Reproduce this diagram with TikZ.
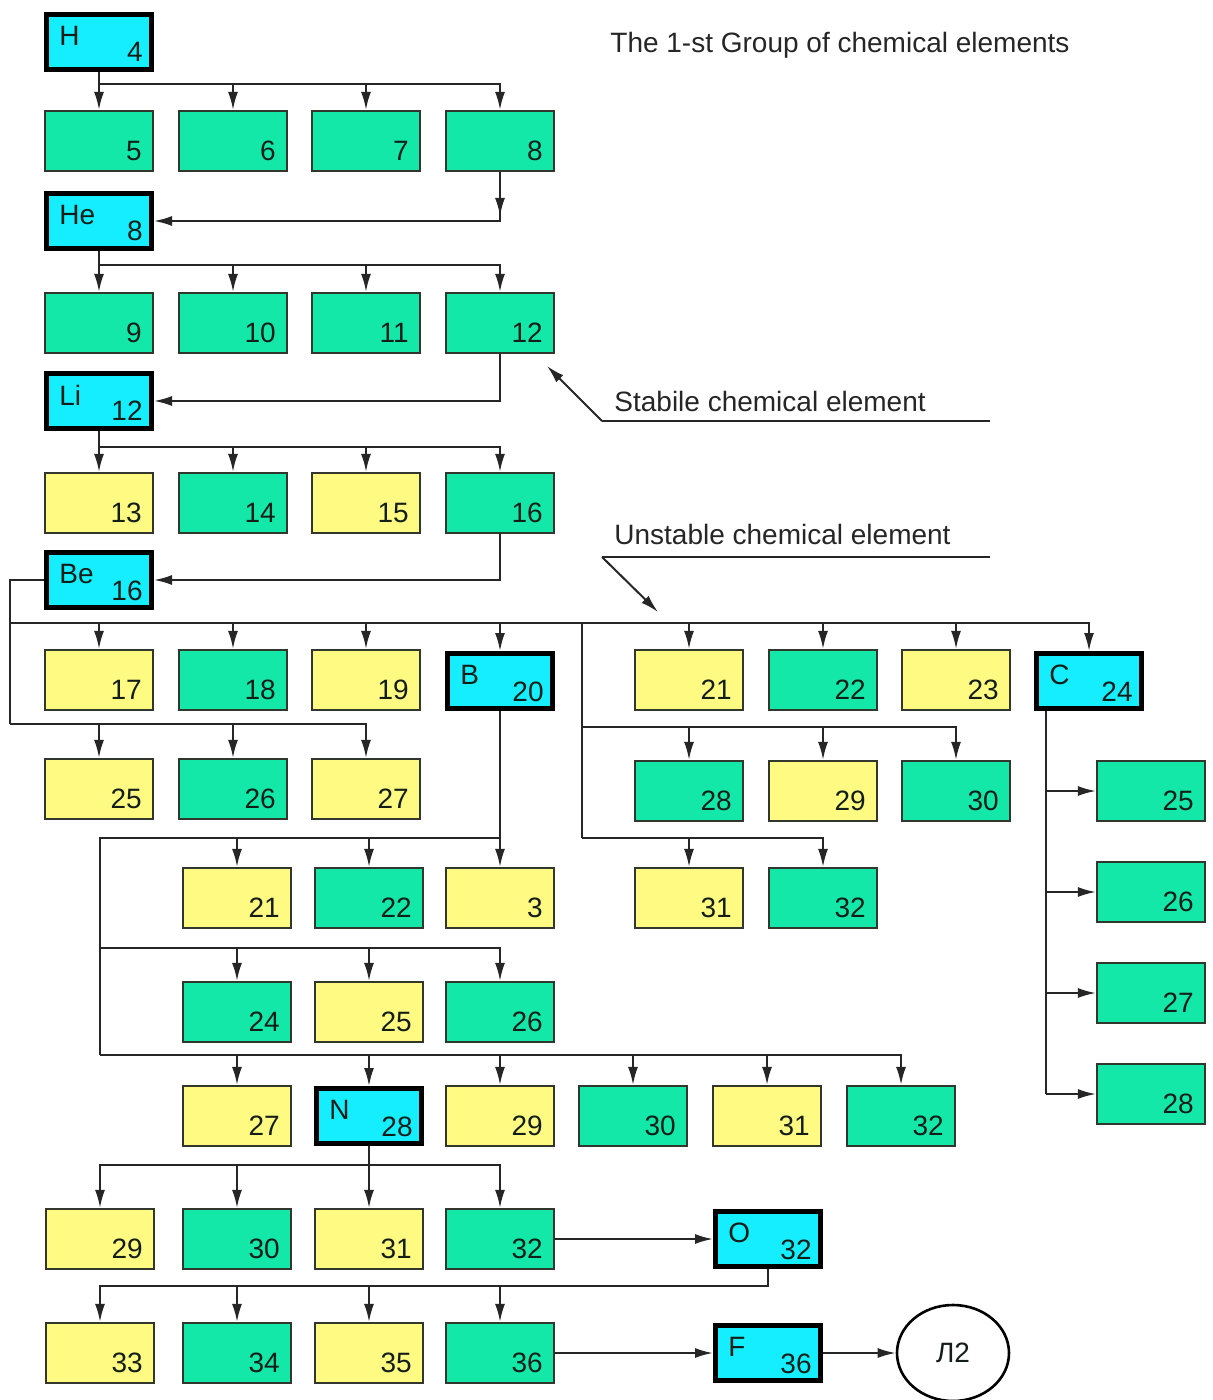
\documentclass[tikz,border=0pt]{standalone}
\usepackage{fontspec}
\setmainfont{Liberation Sans}
\usetikzlibrary{arrows.meta,shapes.geometric}
\definecolor{grn}{RGB}{20,232,168}
\definecolor{ylw}{RGB}{255,250,130}
\definecolor{cyn}{RGB}{20,238,255}
\definecolor{edgec}{RGB}{50,55,45}
\definecolor{ink}{RGB}{20,30,25}
\newcommand\elfont{\fontsize{14}{17}\selectfont}
\tikzset{
  elem/.style={rectangle, inner sep=0pt, minimum width=54pt, minimum height=30pt, draw=edgec, line width=1.1pt},
  gbox/.style={elem, fill=grn},
  ybox/.style={elem, fill=ylw},
  cbox/.style={rectangle, inner sep=0pt, minimum width=52.5pt, minimum height=27.5pt, draw=black, line width=2.5pt, fill=cyn},
  num/.style={label={[anchor=base east, inner sep=0pt, xshift=-6pt, yshift=6pt, text=ink, font=\elfont]south east:#1}},
  cnum/.style={label={[anchor=base east, inner sep=0pt, xshift=-5.5pt, yshift=5pt, text=ink, font=\elfont]south east:#1}},
  sym/.style={label={[anchor=north west, inner sep=0pt, xshift=7.5pt, yshift=-7pt, text=ink, font=\elfont]north west:#1}},
  conn/.style={draw=black!85, line width=1pt},
  arr/.style={conn, -{Latex[length=9pt,width=5pt]}},
  note/.style={anchor=base west, inner sep=0pt, font=\elfont, text=black!85},
}
\newcommand\elG[4]{\node[gbox,num={#4}] (#1) at (#2,#3) {};}
\newcommand\elY[4]{\node[ybox,num={#4}] (#1) at (#2,#3) {};}
\newcommand\elC[5]{\node[cbox,cnum={#5},sym={#4}] (#1) at (#2,#3) {};}
\begin{document}
\begin{tikzpicture}[x=0.5pt,y=-0.5pt]
\useasboundingbox (0,0) rectangle (1212,1400);
\fill[white] (0,0) rectangle (1212,1400);

% ---------- nodes ----------
\elC{H}{99}{42}{H}{4}
\elG{a5}{99}{141}{5}\elG{a6}{233}{141}{6}\elG{a7}{366}{141}{7}\elG{a8}{500}{141}{8}
\elC{He}{99}{221}{He}{8}
\elG{b9}{99}{323}{9}\elG{b10}{233}{323}{10}\elG{b11}{366}{323}{11}\elG{b12}{500}{323}{12}
\elC{Li}{99}{401}{Li}{12}
\elY{c13}{99}{503}{13}\elG{c14}{233}{503}{14}\elY{c15}{366}{503}{15}\elG{c16}{500}{503}{16}
\elC{Be}{99}{580}{Be}{16}
\elY{d17}{99}{680}{17}\elG{d18}{233}{680}{18}\elY{d19}{366}{680}{19}
\elC{B}{500}{681}{B}{20}
\elY{d21}{689}{680}{21}\elG{d22}{823}{680}{22}\elY{d23}{956}{680}{23}
\elC{C}{1089}{681}{C}{24}
\elY{e25}{99}{789}{25}\elG{e26}{233}{789}{26}\elY{e27}{366}{789}{27}
\elG{e28}{689}{791}{28}\elY{e29}{823}{791}{29}\elG{e30}{956}{791}{30}
\elY{f21}{237}{898}{21}\elG{f22}{369}{898}{22}\elY{f3}{500}{898}{3}
\elY{f31}{689}{898}{31}\elG{f32}{823}{898}{32}
\elG{s25}{1151}{791}{25}\elG{s26}{1151}{892}{26}\elG{s27}{1151}{993}{27}\elG{s28}{1151}{1094}{28}
\elG{g24}{237}{1012}{24}\elY{g25}{369}{1012}{25}\elG{g26}{500}{1012}{26}
\elY{h27}{237}{1116}{27}
\elC{N}{369}{1116}{N}{28}
\elY{h29}{500}{1116}{29}\elG{h30}{633}{1116}{30}\elY{h31}{767}{1116}{31}\elG{h32}{901}{1116}{32}
\elY{i29}{100}{1239}{29}\elG{i30}{237}{1239}{30}\elY{i31}{369}{1239}{31}\elG{i32}{500}{1239}{32}
\elC{O}{768}{1239}{O}{32}
\elY{j33}{100}{1353}{33}\elG{j34}{237}{1353}{34}\elY{j35}{369}{1353}{35}\elG{j36}{500}{1353}{36}
\elC{Fb}{768}{1353}{F}{36}
\node[ellipse, draw=black, line width=1.3pt, minimum width=56pt, minimum height=48pt, inner sep=0pt, font=\elfont, text=ink] (L2) at (953,1353) {Л2};

% ---------- bus coordinates ----------
\coordinate (bL1) at (10,623);
\coordinate (bL2) at (10,724);
\coordinate (bR) at (582,623);
\coordinate (bR1) at (582,727);
\coordinate (bR2) at (582,838);
\coordinate (bB1) at (100,838);
\coordinate (bB2) at (100,948);
\coordinate (bB3) at (100,1055);

% ---------- connectors ----------
\foreach \c in {a5,a6,a7,a8} \draw[arr] (H.south) |- (\c.north |- 0,84) -- (\c.north);
\draw[arr] (a8.south) |- (He.east);
\draw[arr] (a8.south) -- (a8.south |- 0,216);
\foreach \c in {b9,b10,b11,b12} \draw[arr] (He.south) |- (\c.north |- 0,265) -- (\c.north);
\draw[arr] (b12.south) |- (Li.east);
\foreach \c in {c13,c14,c15,c16} \draw[arr] (Li.south) |- (\c.north |- 0,447) -- (\c.north);
\draw[arr] (c16.south) |- (Be.east);

\draw[conn] (Be.west) -| (bL2);
\foreach \c in {d17,d18,d19,B,d21,d22,d23,C} \draw[arr] (bL1) -| (\c.north);
\foreach \c in {e25,e26,e27} \draw[arr] (bL2) -| (\c.north);
\draw[conn] (bR) -- (bR2);
\foreach \c in {e28,e29,e30} \draw[arr] (bR1) -| (\c.north);
\foreach \c in {f31,f32} \draw[arr] (bR2) -| (\c.north);

\draw[arr] (B.south) -- (f3.north);
\draw[conn] (B.south |- bB1) -- (bB1) -- (bB3);
\foreach \c in {f21,f22} \draw[arr] (bB1) -| (\c.north);
\foreach \c in {g24,g25,g26} \draw[arr] (bB2) -| (\c.north);
\foreach \c in {h27,N,h29,h30,h31,h32} \draw[arr] (bB3) -| (\c.north);

\draw[conn] (C.south -| 1046,0) -- (s28.west -| 1046,0);
\foreach \c in {s25,s26,s27,s28} \draw[arr] (\c.west -| 1046,0) -- (\c.west);

\foreach \c in {i29,i30,i31,i32} \draw[arr] (N.south) |- (\c.north |- 0,1165) -- (\c.north);
\draw[arr] (i32.east) -- (O.west);
\foreach \c in {j33,j34,j35,j36} \draw[arr] (O.south) |- (\c.north |- 0,1286) -- (\c.north);
\draw[arr] (j36.east) -- (Fb.west);
\draw[arr] (Fb.east) -- (L2.west);

% ---------- annotations ----------
\node[note] (title) at (610,53) {The 1-st Group of chemical elements};
\node[note] (stab) at (614,412) {Stabile chemical element};
\coordinate (s1) at (602,421);
\coordinate (s2) at (990,421);
\coordinate (sTip) at (547,366);
\draw[conn] (s2) -- (s1);
\draw[arr] (s1) -- (sTip);
\node[note] (unst) at (614,545) {Unstable chemical element};
\coordinate (u1) at (602,557);
\coordinate (u2) at (990,557);
\coordinate (uTip) at (658,612);
\draw[conn] (u2) -- (u1);
\draw[arr] (u1) -- (uTip);
\end{tikzpicture}
\end{document}
